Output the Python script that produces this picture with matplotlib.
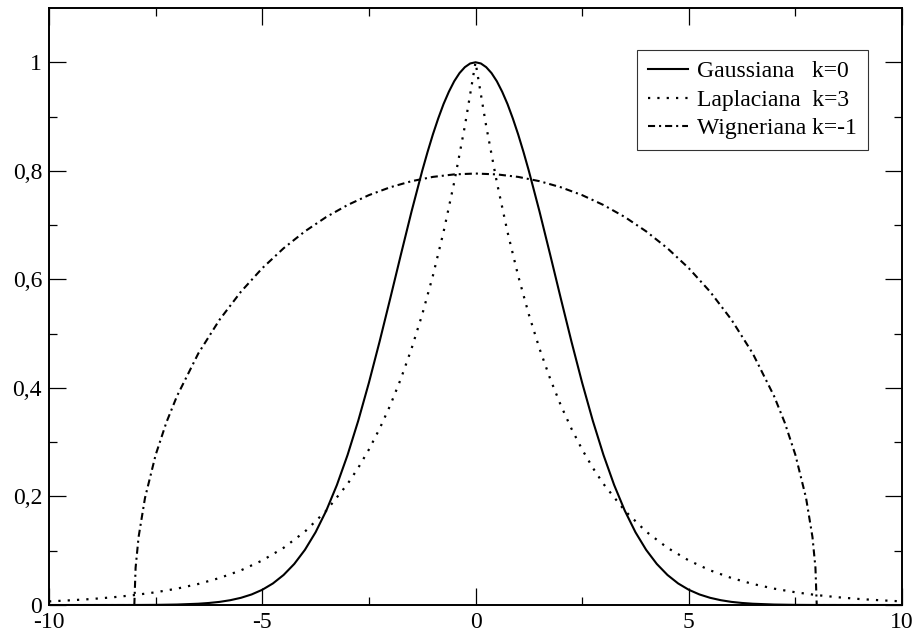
import matplotlib
matplotlib.use("Agg")
import matplotlib.pyplot as plt
from matplotlib.ticker import FixedLocator, FixedFormatter

plt.rcParams['font.family'] = ['Liberation Serif', 'DejaVu Serif']

# values
gauss_x = [-10, -8, -7.5, -7, -6.5, -6.25, -6, -5.75, -5.5, -5.25, -5, -4.75, -4.5, -4.25,
           -4, -3.75, -3.5, -3.25, -3, -2.75, -2.5, -2.25, -2, -1.75, -1.5, -1.25,
           -1.125, -1, -0.875, -0.75, -0.625, -0.5, -0.375, -0.25, -0.125, 0,
           0.125, 0.25, 0.375, 0.5, 0.625, 0.75, 0.875, 1, 1.125, 1.25, 1.5, 1.75,
           2, 2.25, 2.5, 2.75, 3, 3.25, 3.5, 3.75, 4, 4.25, 4.5, 4.75, 5, 5.25, 5.5,
           5.75, 6, 6.25, 6.5, 7, 7.5, 8, 10]
gauss_y = [0.0, 0.0001, 0.0003, 0.0009, 0.0024, 0.0038, 0.0058, 0.0089, 0.0133, 0.0195,
           0.0281, 0.0398, 0.0554, 0.0757, 0.1017, 0.1341, 0.1738, 0.2212, 0.2765,
           0.3395, 0.4095, 0.4852, 0.5647, 0.6456, 0.7251, 0.800,
           0.8346, 0.867, 0.8964, 0.923, 0.9457, 0.965, 0.9801, 0.991, 0.9978, 1.0,
           0.9978, 0.991, 0.9801, 0.965, 0.9457, 0.923, 0.8964, 0.867, 0.8346, 0.800,
           0.7251, 0.6456, 0.5647, 0.4852, 0.4095, 0.3395, 0.2765, 0.2212, 0.1738,
           0.1341, 0.1017, 0.0757, 0.0554, 0.0398, 0.0281, 0.0195, 0.0133, 0.0089,
           0.0058, 0.0038, 0.0024, 0.0009, 0.0003, 0.0001, 0.0]

lap_x = [-10, -9.5, -9, -8.5, -8, -7.5, -7, -6.5, -6, -5.5, -5, -4.5, -4, -3.5, -3,
         -2.75, -2.5, -2.25, -2, -1.75, -1.5, -1.25, -1, -0.75, -0.5, -0.25, 0,
         0.25, 0.5, 0.75, 1, 1.25, 1.5, 1.75, 2, 2.25, 2.5, 2.75, 3, 3.5, 4, 4.5,
         5, 5.5, 6, 6.5, 7, 7.5, 8, 8.5, 9, 9.5, 10]
lap_y = [0.0067, 0.0087, 0.0111, 0.0143, 0.0183, 0.0235, 0.0302, 0.0388, 0.0498,
         0.0639, 0.0821, 0.1054, 0.1353, 0.1738, 0.2231, 0.2528, 0.2865, 0.3247,
         0.3679, 0.4169, 0.4724, 0.5353, 0.6065, 0.6873, 0.7788, 0.8825, 1.0,
         0.8825, 0.7788, 0.6873, 0.6065, 0.5353, 0.4724, 0.4169, 0.3679, 0.3247,
         0.2865, 0.2528, 0.2231, 0.1738, 0.1353, 0.1054, 0.0821, 0.0639, 0.0498,
         0.0388, 0.0302, 0.0235, 0.0183, 0.0143, 0.0111, 0.0087, 0.0067]

wig_x = [-10, -8, -7.97, -7.9, -7.75, -7.5, -7.25, -7, -6.5, -6, -5.5, -5, -4.5, -4,
         -3.5, -3, -2.5, -2, -1.5, -1, -0.5, 0, 0.5, 1, 1.5, 2, 2.5, 3, 3.5, 4, 4.5,
         5, 5.5, 6, 6.5, 7, 7.25, 7.5, 7.75, 7.9, 7.97, 8, 10]
wig_y = [0.0, 0.0, 0.0688, 0.1253, 0.1972, 0.2766, 0.3361, 0.3849, 0.4635, 0.5258,
         0.5773, 0.6206, 0.6573, 0.6885, 0.7149, 0.7370, 0.7552, 0.7697, 0.7809,
         0.7888, 0.7934, 0.795, 0.7934, 0.7888, 0.7809, 0.7697, 0.7552, 0.7370,
         0.7149, 0.6885, 0.6573, 0.6206, 0.5773, 0.5258, 0.4635, 0.3849, 0.3361,
         0.2766, 0.1972, 0.1253, 0.0688, 0.0, 0.0]

labels = ['Gaussiana   k=0', 'Laplaciana  k=3', 'Wigneriana k=-1']

xticks = [-10, -5, 0, 5, 10]
xtick_labels = ['-10', '-5', '0', '5', '10']
yticks = [0, 0.2, 0.4, 0.6, 0.8, 1.0]
ytick_labels = ['0', '0,2', '0,4', '0,6', '0,8', '1']

fig = plt.figure(figsize=(9.18, 6.34), dpi=100)
ax = fig.add_axes([0.0534, 0.0457, 0.9292, 0.9417])

ax.plot(gauss_x, gauss_y, color='black', lw=1.5, ls='-', label=labels[0])
ax.plot(lap_x, lap_y, color='black', lw=1.6, ls=(0, (1, 3.2)), label=labels[1])
ax.plot(wig_x, wig_y, color='black', lw=1.5, ls=(0, (3.4, 1.9, 1, 1.9)), label=labels[2])

ax.set_xlim(-10, 10)
ax.set_ylim(0, 1.1)

ax.xaxis.set_major_locator(FixedLocator(xticks))
ax.xaxis.set_major_formatter(FixedFormatter(xtick_labels))
ax.xaxis.set_minor_locator(FixedLocator([-7.5, -2.5, 2.5, 7.5]))
ax.yaxis.set_major_locator(FixedLocator(yticks))
ax.yaxis.set_major_formatter(FixedFormatter(ytick_labels))
ax.yaxis.set_minor_locator(FixedLocator([0.1, 0.3, 0.5, 0.7, 0.9]))

ax.tick_params(which='both', direction='in', top=True, right=True, labelsize=17, width=0.9)
ax.tick_params(which='major', length=12)
ax.tick_params(which='minor', length=6)
ax.tick_params(axis='y', pad=5)
ax.tick_params(axis='x', pad=5)
for s in ax.spines.values():
    s.set_linewidth(1.4)

leg = ax.legend(loc='upper right', bbox_to_anchor=(0.960, 0.9296), fontsize=17,
                frameon=True, fancybox=False, shadow=False, handlelength=1.7,
                handletextpad=0.4, borderpad=0.45, labelspacing=0.3, borderaxespad=0)
leg.get_frame().set_edgecolor('black')
leg.get_frame().set_linewidth(0.8)

fig.savefig('out.png', dpi=100)
